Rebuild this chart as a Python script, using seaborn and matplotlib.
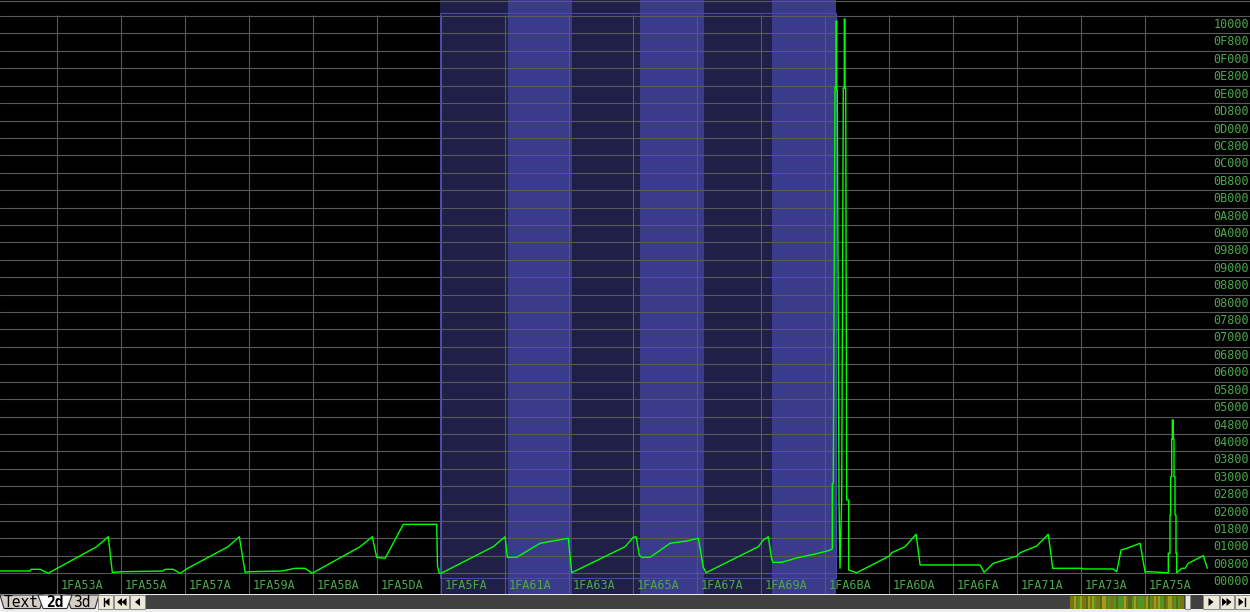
import numpy as np
import pandas as pd
import matplotlib
matplotlib.use("Agg")
import matplotlib.pyplot as plt
import matplotlib.transforms as mtransforms
from matplotlib.patches import Rectangle, Polygon
import seaborn as sns

BASE = 0x1FA500

# trace: address offset from 0x1FA500, 16-bit value
addr_off = [29.4, 44.4, 44.9, 49.4, 53.4, 58.0, 77.7, 83.5, 85.5, 90.9,
            110.9, 111.9, 115.9, 119.4, 123.2, 143.4, 149.0, 151.9, 154.4, 170.4,
            176.9, 181.9, 185.4, 209.4, 215.5, 217.7, 221.9, 231.0, 247.7, 248.1,
            249.0, 249.9, 276.0, 281.9, 283.0, 287.7, 299.4, 306.0, 313.5, 315.2,
            341.9, 346.0, 347.4, 349.0, 350.2, 354.4, 364.4, 372.7, 378.5, 381.0,
            382.4, 408.5, 411.0, 413.5, 415.2, 415.9, 420.2, 427.7, 436.9, 443.5,
            445.5, 445.5, 446.0, 446.85, 447.35, 447.35, 447.7, 447.7, 448.0, 448.85,
            449.35, 450.2, 451.0, 451.5, 451.5, 451.85, 451.85, 452.2, 452.7, 453.7,
            453.7, 457.7, 474.0, 475.2, 481.9, 487.4, 489.4, 519.4, 521.4, 526.0,
            537.7, 539.4, 547.7, 553.5, 555.7, 570.2, 570.9, 585.9, 587.7, 589.9,
            592.7, 599.4, 601.9, 603.4, 613.5, 613.5, 614.35, 614.35, 614.7, 614.7,
            615.2, 615.2, 615.5, 615.5, 616.0, 616.0, 616.35, 616.35, 616.85, 616.85,
            617.35, 617.35, 617.7, 617.7, 620.2, 621.9, 623.5, 631.0, 633.0]
value = [270, 270, 470, 470, 0, 590, 3130, 4300, 120, 190,
         270, 470, 470, 0, 590, 3130, 4300, 120, 190, 270,
         590, 590, 0, 3130, 4300, 1880, 1760, 5760, 5760, 860,
         0, 0, 3130, 4300, 1880, 1880, 3530, 3800, 4120, 70,
         3130, 4230, 4300, 2150, 1880, 1880, 3530, 3800, 4120, 710,
         70, 3130, 3920, 4300, 1680, 1290, 1290, 1800, 2270, 2660,
         2860, 10580, 10580, 57190, 57190, 64950, 64950, 56840, 56840, 8820,
         590, 8820, 57070, 57070, 65180, 65180, 57070, 57070, 8620, 8620,
         390, 70, 2030, 2420, 3130, 4590, 980, 980, 120, 1180,
         2030, 2420, 3210, 4590, 590, 590, 510, 510, 190, 2740,
         2940, 3530, 120, 190, 70, 2350, 2350, 6860, 6860, 11360,
         11360, 15760, 15760, 18030, 18030, 15760, 15760, 11360, 11360, 6860,
         6860, 2350, 2350, 70, 590, 590, 1180, 2070, 590]

x_labels = ["1FA53A", "1FA55A", "1FA57A", "1FA59A", "1FA5BA", "1FA5DA",
            "1FA5FA", "1FA61A", "1FA63A", "1FA65A", "1FA67A", "1FA69A",
            "1FA6BA", "1FA6DA", "1FA6FA", "1FA71A", "1FA73A", "1FA75A"]
y_labels = ["00000", "00800", "01000", "01800", "02000", "02800", "03000",
            "03800", "04000", "04800", "05000", "05800", "06000", "06800",
            "07000", "07800", "08000", "08800", "09000", "09800", "0A000",
            "0A800", "0B000", "0B800", "0C000", "0C800", "0D000", "0D800",
            "0E000", "0E800", "0F000", "0F800", "10000"]

# selected records (address offsets of the band edges)
sel_edges = [249.35, 283.35, 315.35, 349.35, 381.35, 415.35, 447.35]

# overview strip colours in the scroll bar
strip = "ooyogyoodyoygoodyyogoogdgggyoddgyogggoydgoyoyggdoyyogdgoo"
strip_cols = {"o": "#767612", "g": "#4e9622", "y": "#a09c1c", "d": "#5c6418"}

sns.set_theme(style="dark", rc={"axes.facecolor": "black", "figure.facecolor": "black"})
plt.rcParams["font.family"] = ["DejaVu Sans Mono", "DejaVu Sans"]

df = pd.DataFrame({"addr": [BASE + a for a in addr_off], "value": value})

fig = plt.figure(figsize=(12.5, 6.12), dpi=100)
ax = fig.add_axes([0, 18 / 612, 1, 594 / 612])
ax.set_facecolor("black")
ax.set_xlim(BASE + 29.35, BASE + 654.35)
ax.set_ylim(-2434, 67420)

grid_c = "#5a5a5a"
lab_c = "#4aa84a"

# selection bands
for i in range(len(sel_edges) - 1):
    ax.axvspan(BASE + sel_edges[i], BASE + sel_edges[i + 1], ymin=0, ymax=1,
               color="#1f1f48" if i % 2 == 0 else "#3b3b8c", lw=0, zorder=0)
ax.add_patch(Rectangle((BASE + sel_edges[0], -550), sel_edges[-1] - sel_edges[0], 66440,
                       fill=False, edgecolor="#4a4aa6", lw=0.8, zorder=1.5))

# grid
for s in y_labels:
    ax.axhline(int(s, 16), color=grid_c, lw=0.8, zorder=1)
ax.axhline(67340, color=grid_c, lw=0.8, zorder=1)
ax.vlines([int(s, 16) for s in x_labels], -2434, 65680, color=grid_c, lw=0.8, zorder=1)

sns.lineplot(data=df, x="addr", y="value", sort=False, estimator=None,
             color="#00ff00", lw=1.0, ax=ax, zorder=3)

trans = mtransforms.blended_transform_factory(ax.transAxes, ax.transData)
for s in y_labels:
    ax.text(1249 / 1250, int(s, 16) - 1410, s, transform=trans, ha="right", va="baseline",
            color=lab_c, fontsize=8.5, zorder=4)
for s in x_labels:
    ax.text(int(s, 16) + 1.7, -1860, s, ha="left", va="baseline",
            color=lab_c, fontsize=8.5, zorder=4)

ax.set_xticks([])
ax.set_yticks([])
ax.set_xlabel("")
ax.set_ylabel("")
for sp in ax.spines.values():
    sp.set_visible(False)

# bottom tab / scroll bar in pixel coordinates
ov = fig.add_axes([0, 0, 1, 1], zorder=10)
ov.set_xlim(0, 1250)
ov.set_ylim(612, 0)
ov.axis("off")
ov.patch.set_alpha(0)

ov.add_patch(Rectangle((0, 594), 1250, 18, color="#eeeeee", lw=0))
ov.add_patch(Rectangle((145, 595), 1058, 14, color="#404040", lw=0))

for i, c in enumerate(strip):
    ov.add_patch(Rectangle((1070 + i * 2, 595.5), 2, 13.5, color=strip_cols[c], lw=0))

btn_face = "#ece9d8"
btn_edge = "#8a8a8a"
ov.add_patch(Rectangle((1185, 595), 5, 14, facecolor=btn_face, edgecolor=btn_edge, lw=0.7))

tabs = [("Text", [(0, 595), (44, 595), (40, 608.5), (4, 608.5)], "#d4d0c8", 21),
        ("3d", [(66, 595), (99, 595), (95, 608.5), (71, 608.5)], "#d4d0c8", 82),
        ("2d", [(38, 595), (72, 595), (67, 608.5), (43, 608.5)], "white", 55)]
for name, pts, fc, tx in tabs:
    ov.add_patch(Polygon(pts, closed=True, facecolor=fc, edgecolor="#303030", lw=0.8))
    ov.text(tx, 602.3, name, ha="center", va="center", fontsize=10.5, color="black",
            fontweight="bold" if name == "2d" else "normal")
ov.plot([5, 12], [607.5, 607.5], color="black", lw=0.8)


def tri(x, y, left):
    d = -1 if left else 1
    return Polygon([(x - 2.5 * d, y - 4), (x - 2.5 * d, y + 4), (x + 2.5 * d, y)],
                   closed=True, color="black", lw=0)


for x0, w, kind in [(98, 15, "first"), (114, 15, "prev2"), (130, 15, "prev"),
                    (1203, 16, "next"), (1220, 14, "next2"), (1235, 15, "last")]:
    ov.add_patch(Rectangle((x0, 595), w, 14, facecolor=btn_face, edgecolor=btn_edge, lw=0.7))
    cx = x0 + w / 2
    if kind == "first":
        ov.add_patch(tri(cx + 1.5, 602, True))
        ov.plot([cx - 2, cx - 2], [598, 606], color="black", lw=1)
    elif kind == "prev2":
        ov.add_patch(tri(cx - 2, 602, True))
        ov.add_patch(tri(cx + 2.5, 602, True))
    elif kind == "prev":
        ov.add_patch(tri(cx, 602, True))
    elif kind == "next":
        ov.add_patch(tri(cx, 602, False))
    elif kind == "next2":
        ov.add_patch(tri(cx - 2.5, 602, False))
        ov.add_patch(tri(cx + 2, 602, False))
    else:
        ov.add_patch(tri(cx - 1.5, 602, False))
        ov.plot([cx + 2, cx + 2], [598, 606], color="black", lw=1)

fig.savefig("out.png", dpi=100, facecolor="black")
